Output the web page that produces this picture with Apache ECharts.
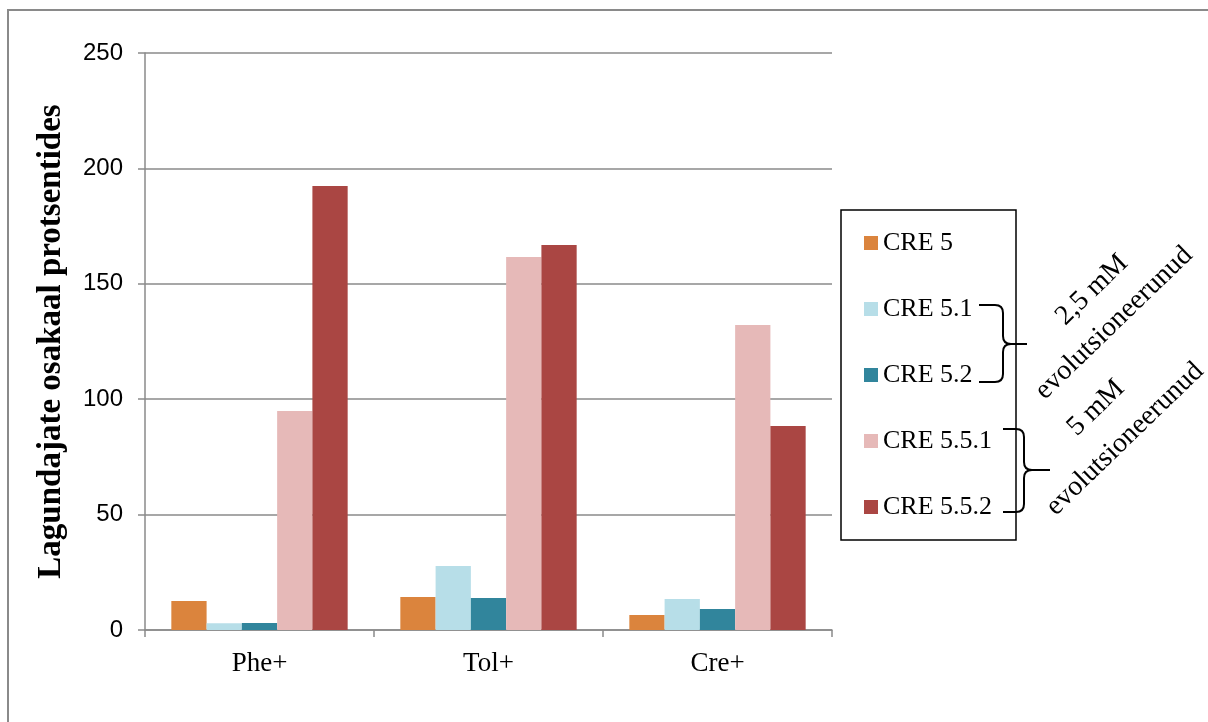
<!DOCTYPE html>
<html>
<head>
<meta charset="utf-8">
<script src="https://cdn.jsdelivr.net/npm/echarts@6/dist/echarts.min.js"></script>
<style>
html,body{margin:0;padding:0;background:#fff;}
#chart{width:1208px;height:722px;}
</style>
</head>
<body>
<div id="chart"></div>
<script>
const categories = ['Phe+', 'Tol+', 'Cre+'];
const seriesNames = ['CRE 5', 'CRE 5.1', 'CRE 5.2', 'CRE 5.5.1', 'CRE 5.5.2'];
const cre5   = [12.6, 14.3, 6.5];
const cre51  = [2.9, 27.7, 13.4];
const cre52  = [3.0, 13.9, 9.1];
const cre551 = [94.9, 161.6, 132.1];
const cre552 = [192.4, 166.8, 88.4];
const colors = ['#DB843D', '#B7DEE8', '#31859C', '#E6B9B8', '#AA4643'];
const yTicks = [0, 50, 100, 150, 200, 250];

const allValues = [cre5, cre51, cre52, cre551, cre552];
const chart = echarts.init(document.getElementById('chart'), null, {renderer: 'canvas'});

const serif = '"Liberation Serif", "Times New Roman", serif';
const grayLine = '#8a8a8a';
const braceStyle = {fill: 'none', stroke: '#000', lineWidth: 2};

function brace(x0, xv, xt, top, mid, bot) {
  const r = 8;
  const els = [];
  const line = (x1, y1, x2, y2) => els.push({type: 'line', silent: true, shape: {x1, y1, x2, y2}, style: braceStyle});
  const curve = (x1, y1, cx, cy, x2, y2) => els.push({type: 'bezierCurve', silent: true,
    shape: {x1, y1, x2, y2, cpx1: cx, cpy1: cy}, style: braceStyle});
  line(x0, top, xv - r, top);
  curve(xv - r, top, xv, top, xv, top + r);
  line(xv, top + r, xv, mid - r);
  curve(xv, mid - r, xv, mid, xv + r, mid);
  line(xv + r, mid, xt, mid);
  curve(xv + r, mid, xv, mid, xv, mid + r);
  line(xv, mid + r, xv, bot - r);
  curve(xv, bot - r, xv, bot, xv - r, bot);
  line(xv - r, bot, x0, bot);
  return els;
}

const rot = 44 * Math.PI / 180;
const annFont = '28px ' + serif;

const option = {
  animation: false,
  backgroundColor: '#fff',
  grid: {left: 145, right: 376, top: 53, bottom: 92, containLabel: false},
  legend: {
    show: true,
    data: seriesNames,
    orient: 'vertical',
    left: 864,
    top: 230,
    padding: 0,
    itemWidth: 14,
    itemHeight: 14,
    itemGap: 40,
    selectedMode: false,
    icon: 'rect',
    textStyle: {fontFamily: serif, fontSize: 26, color: '#000', lineHeight: 26}
  },
  xAxis: {
    type: 'category',
    data: categories,
    axisLine: {lineStyle: {color: grayLine, width: 1.5}},
    axisTick: {show: true, alignWithLabel: false, length: 7, lineStyle: {color: grayLine, width: 1.5}},
    axisLabel: {fontFamily: serif, fontSize: 27, color: '#000', margin: 20},
    splitLine: {show: false}
  },
  yAxis: {
    type: 'value',
    min: yTicks[0],
    max: yTicks[yTicks.length - 1],
    interval: 50,
    name: 'Lagundajate osakaal protsentides',
    nameLocation: 'middle',
    nameGap: 77,
    nameRotate: 90,
    nameTextStyle: {fontFamily: serif, fontSize: 33, fontWeight: 'bold', color: '#000'},
    axisLine: {show: true, lineStyle: {color: grayLine, width: 1.5}},
    axisTick: {show: true, length: 7, lineStyle: {color: grayLine, width: 1.5}},
    axisLabel: {fontFamily: '"Liberation Sans", Arial, sans-serif', fontSize: 24, color: '#000', margin: 22},
    splitLine: {show: true, lineStyle: {color: grayLine, width: 1.5}}
  },
  series: seriesNames.map((name, i) => ({
    name: name,
    type: 'bar',
    data: allValues[i],
    barGap: '0%',
    barCategoryGap: '23%',
    itemStyle: {color: colors[i]},
    z: 3
  })),
  graphic: [
    {type: 'rect', silent: true, z: -1,
     shape: {x: 8, y: 10, width: 1300, height: 800},
     style: {fill: 'none', stroke: grayLine, lineWidth: 2}},
    {type: 'rect', silent: true,
     shape: {x: 841, y: 210, width: 175, height: 330},
     style: {fill: 'none', stroke: '#000', lineWidth: 1.5}},
    ...brace(979, 1003, 1027, 305, 344, 382),
    ...brace(1003, 1024, 1050, 429, 470, 512),
    {type: 'text', silent: true, x: 1092, y: 290, rotation: rot,
     style: {text: '2,5 mM', font: annFont, fill: '#000', align: 'center', verticalAlign: 'middle'}},
    {type: 'text', silent: true, x: 1114, y: 323, rotation: rot,
     style: {text: 'evolutsioneerunud', font: annFont, fill: '#000', align: 'center', verticalAlign: 'middle'}},
    {type: 'text', silent: true, x: 1096, y: 408, rotation: rot,
     style: {text: '5 mM', font: annFont, fill: '#000', align: 'center', verticalAlign: 'middle'}},
    {type: 'text', silent: true, x: 1125, y: 439, rotation: rot,
     style: {text: 'evolutsioneerunud', font: annFont, fill: '#000', align: 'center', verticalAlign: 'middle'}}
  ]
};
chart.setOption(option);
</script>
</body>
</html>
